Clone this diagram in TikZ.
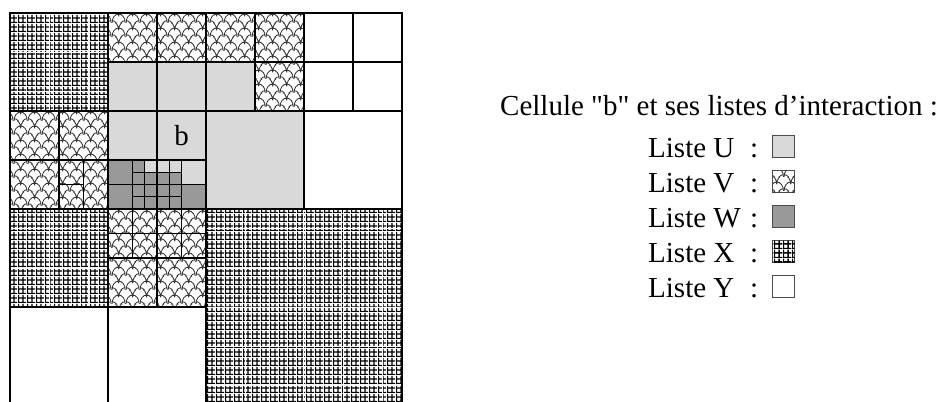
\documentclass[tikz,border=0pt]{standalone}
\usepackage{fontspec}
% a family without the tex-text mapping keeps the straight double quote
\newfontfamily\capfont{Liberation Serif}
\usetikzlibrary{patterns.meta}

\definecolor{ulight}{gray}{0.85}
\definecolor{wdark}{gray}{0.6}

% square mesh used for list X (two mesh lines per 9bp tile)
\tikzdeclarepattern{
  name=finegrid, type=uncolored,
  bounding box={(0,0) and (9bp,9bp)},
  tile size={(9bp,9bp)},
  code={
    \pgfsetlinewidth{1.5bp}
    \pgfpathmoveto{\pgfpoint{0bp}{0.5bp}}\pgfpathlineto{\pgfpoint{9bp}{0.5bp}}
    \pgfpathmoveto{\pgfpoint{0bp}{5.5bp}}\pgfpathlineto{\pgfpoint{9bp}{5.5bp}}
    \pgfpathmoveto{\pgfpoint{0.5bp}{0bp}}\pgfpathlineto{\pgfpoint{0.5bp}{9bp}}
    \pgfpathmoveto{\pgfpoint{5.5bp}{0bp}}\pgfpathlineto{\pgfpoint{5.5bp}{9bp}}
    \pgfusepath{stroke}
  }
}

% overlapping fish-scale arches used for list V
\tikzdeclarepattern{
  name=scales, type=uncolored,
  bounding box={(0,0) and (14bp,14bp)},
  tile size={(14bp,14bp)},
  code={
    \pgfsetlinewidth{0.9bp}
    \pgfpathmoveto{\pgfpoint{0bp}{0bp}}
    \pgfpatharc{180}{0}{7bp and 9.5bp}
    \pgfpathmoveto{\pgfpoint{7bp}{7bp}}
    \pgfpatharc{0}{90}{7bp and 9.5bp}
    \pgfpathmoveto{\pgfpoint{7bp}{7bp}}
    \pgfpatharc{180}{90}{7bp and 9.5bp}
    \pgfpathmoveto{\pgfpoint{7bp}{-7bp}}
    \pgfpatharc{0}{90}{7bp and 9.5bp}
    \pgfpathmoveto{\pgfpoint{7bp}{-7bp}}
    \pgfpatharc{180}{90}{7bp and 9.5bp}
    \pgfusepath{stroke}
  }
}

\tikzset{
  listU/.style={fill=ulight},
  listV/.style={fill=white, postaction={pattern=scales, pattern color=black!80}},
  listW/.style={fill=wdark},
  listX/.style={fill=white, postaction={pattern=finegrid, pattern color=black}},
  listY/.style={fill=white},
  gridline/.style={draw=black, line width=1.1bp},
  seam/.style={draw=white, line width=1bp},
  bcell/.style={draw=black, line width=2.4bp, fill=ulight, minimum size=49bp,
    inner sep=0pt, font=\capfont\fontsize{29bp}{34bp}\selectfont},
  lab/.style={anchor=base west, inner sep=0pt, font=\capfont\fontsize{29bp}{34bp}\selectfont},
  legbox/.style={draw=black!70, line width=1bp, minimum size=22bp, inner sep=0pt, anchor=south west},
}

\begin{document}
\begin{tikzpicture}[x=1bp, y=-1bp]
\useasboundingbox (0,0) rectangle (944,401);
\clip (0,0) rectangle (944,401);

% ---- quadtree of cells, 8x8 units of 49bp ----
\begin{scope}[shift={(10,13)}, x=49bp, y=-49bp]
  % list U
  \foreach \a/\b/\c/\d in {2/1/3/2, 3/1/4/2, 2/2/3/3, 4/1/5/2, 4/2/6/4,
      3.5/3/4/3.5, 2.75/3/3/3.25, 3/3/3.25/3.25, 3.25/3/3.5/3.25}
    \path[listU] (\a,\b) rectangle (\c,\d);
  % list V
  \foreach \a/\b/\c/\d in {2/0/3/1, 3/0/4/1, 4/0/5/1, 5/0/6/1, 5/1/6/2,
      0/2/1/3, 1/2/2/3, 0/3/1/4, 1/3/2/4,
      2/4/2.5/4.5, 2.5/4/3/4.5, 2/4.5/2.5/5, 2.5/4.5/3/5,
      3/4/3.5/4.5, 3.5/4/4/4.5, 3/4.5/3.5/5, 3.5/4.5/4/5,
      2/5/3/6, 3/5/4/6}
    \path[listV] (\a,\b) rectangle (\c,\d);
  % list W
  \foreach \a/\b/\c/\d in {2/3/2.5/3.5, 2/3.5/2.5/4, 3.5/3.5/4/4,
      2.5/3/2.75/3.25, 2.5/3.25/3/3.5, 2.5/3.5/3/4, 3/3.25/3.5/3.5, 3/3.5/3.5/4}
    \path[listW] (\a,\b) rectangle (\c,\d);
  % list X
  \foreach \a/\b/\c/\d in {0/0/2/2, 0/4/2/6, 4/4/8/8}
    \path[listX] (\a,\b) rectangle (\c,\d);
  % list Y
  \foreach \a/\b/\c/\d in {6/0/7/1, 7/0/8/1, 6/1/7/2, 7/1/8/2, 6/2/8/4, 0/6/2/8, 2/6/4/8}
    \path[listY] (\a,\b) rectangle (\c,\d);
\end{scope}

% light seams between the tiles of the mesh
\draw[seam] (49,13) -- (49,111) (88,13) -- (88,111) (10,52) -- (108,52) (10,91) -- (108,91)
            (49,209) -- (49,307) (88,209) -- (88,307) (10,228) -- (108,228) (10,268) -- (108,268)
            (245,209) -- (245,401) (303,209) -- (303,401) (343,209) -- (343,401) (382,209) -- (382,401)
            (206,228) -- (402,228) (206,268) -- (402,268) (206,307) -- (402,307)
            (206,346) -- (402,346) (206,385) -- (402,385);

\begin{scope}[shift={(10,13)}, x=49bp, y=-49bp]
  % cell borders
  \foreach \a/\b/\c/\d in {0/0/2/2, 2/0/3/1, 3/0/4/1, 2/1/3/2, 3/1/4/2,
      4/0/5/1, 5/0/6/1, 4/1/5/2, 5/1/6/2, 6/0/7/1, 7/0/8/1, 6/1/7/2, 7/1/8/2,
      4/2/6/4, 6/2/8/4, 0/2/1/3, 1/2/2/3, 0/3/1/4, 1/3/2/4, 2/2/3/3,
      2/3/2.5/3.5, 2/3.5/2.5/4, 3.5/3/4/3.5, 3.5/3.5/4/4,
      2.5/3/3/3.5, 2.5/3.5/3/4, 3/3/3.5/3.5, 3/3.5/3.5/4,
      0/4/2/6, 2/4/3/5, 3/4/4/5, 2/5/3/6, 3/5/4/6, 0/6/2/8, 2/6/4/8, 4/4/8/8}
    \draw[gridline] (\a,\b) rectangle (\c,\d);
  % finer subdivisions
  \draw[gridline] (2.75,3) -- (2.75,4) (3.25,3) -- (3.25,4)
                  (2.5,3.25) -- (3.5,3.25) (2.5,3.75) -- (3.5,3.75)
                  (2.5,4) -- (2.5,5) (3.5,4) -- (3.5,5) (2,4.5) -- (4,4.5)
                  (1.5,3) -- (1.5,4) (1,3.5) -- (1.5,3.5);

  % the cell b itself
  \node[bcell] (b) at (3.5,2.5) {b};
\end{scope}

% ---- caption and key ----
\node[lab] (title) at (500,115) {Cellule "b" et ses listes d’interaction :};

\foreach \n/\y in {U/157, V/192, W/227, X/262, Y/297}{
  \node[lab] (name\n) at (648,\y) {Liste \n};
  \node[lab] (colon\n) at (750,\y) {:};
}
\node[legbox, listU] (keyU) at (772,158) {};
\node[legbox, listV] (keyV) at (772,193) {};
\node[legbox, listW] (keyW) at (772,228) {};
\node[legbox, listX] (keyX) at (772,263) {};
\node[legbox, listY] (keyY) at (772,298) {};
\end{tikzpicture}
\end{document}
